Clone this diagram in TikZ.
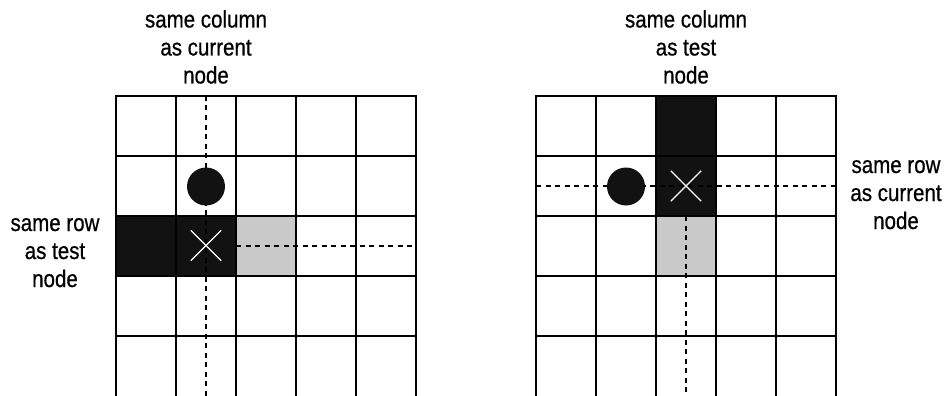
\documentclass[tikz,border=0pt]{standalone}
\usepackage{fontspec}
\setmainfont{Liberation Sans}[FakeStretch=0.855,FakeBold=0.6]
\begin{document}
\begin{tikzpicture}[x=1pt,y=-1pt,
  gridline/.style={line width=2pt,line cap=rect},
  dashline/.style={line width=1.4pt,dash pattern=on 5pt off 4.5pt},
  blackcell/.style={fill=black!93},
  graycell/.style={fill=black!21},
  dot/.style={circle,fill=black!93,minimum size=38pt,inner sep=0pt},
  crossline/.style={white,line width=1.3pt},
  lbl/.style={align=center,anchor=base,font=\fontsize{24}{28}\selectfont,inner sep=0pt}]
\useasboundingbox (0,0) rectangle (946,396);
\fill[white] (0,0) rectangle (946,396);

% ---------- left grid ----------
\fill[blackcell] (116,216) rectangle (236,276);
\fill[graycell] (236,216) rectangle (296,276);
\coordinate (lvt) at (206,96);
\coordinate (lvb) at (206,396);
\coordinate (lhl) at (236,246);
\coordinate (lhr) at (416,246);
\draw[dashline] (lvt) -- (lvb);
\draw[dashline] (lhl) -- (lhr);
\foreach \y in {96,156,216,276,336} \draw[gridline] (116,\y) -- (416,\y);
\foreach \x in {116,176,236,296,356,416} \draw[gridline,line cap=butt] (\x,95) -- (\x,396);
\node[dot] (lcur) at (206,186.5) {};
\node[minimum size=30pt,inner sep=0pt] (ltest) at (206,245.5) {};
\draw[crossline] (ltest.north west) -- (ltest.south east);
\draw[crossline] (ltest.north east) -- (ltest.south west);

% ---------- right grid ----------
\fill[blackcell] (656,96) rectangle (716,216);
\fill[graycell] (656,216) rectangle (716,276);
\coordinate (rhl) at (536,186);
\coordinate (rhr) at (836,186);
\coordinate (rvt) at (686,216);
\coordinate (rvb) at (686,396);
\draw[dashline] (rhl) -- (rhr);
\draw[dashline] (rvt) -- (rvb);
\foreach \y in {96,156,216,276,336} \draw[gridline] (536,\y) -- (836,\y);
\foreach \x in {536,596,656,716,776,836} \draw[gridline,line cap=butt] (\x,95) -- (\x,396);
\node[dot] (rcur) at (626,186.5) {};
\node[minimum size=30pt,inner sep=0pt] (rtest) at (686,186) {};
\draw[crossline] (rtest.north west) -- (rtest.south east);
\draw[crossline] (rtest.north east) -- (rtest.south west);

% ---------- labels (base = baseline of last line) ----------
\node[lbl] (ltop) at (206,83.5) {same column\\as current\\node};
\node[lbl] (rtop) at (686,83.5) {same column\\as test\\node};
\node[lbl] (lside) at (55,287) {same row\\as test\\node};
\node[lbl] (rside) at (896,229) {same row\\as current\\node};
\end{tikzpicture}
\end{document}
